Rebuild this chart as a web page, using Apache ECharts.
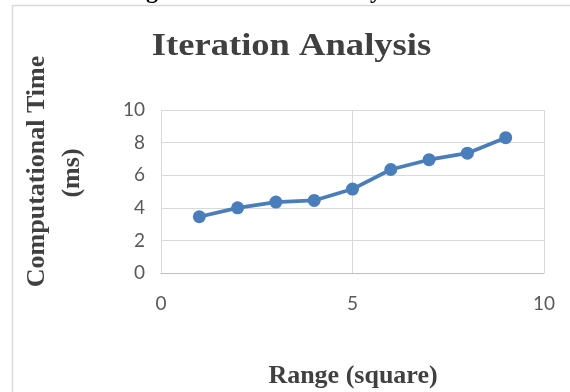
<!DOCTYPE html>
<html>
<head>
<meta charset="utf-8">
<script src="https://cdn.jsdelivr.net/npm/echarts@6/dist/echarts.min.js"></script>
<style>
  html, body { margin: 0; padding: 0; background: #ffffff; }
  #chart { width: 570px; height: 392px; }
</style>
</head>
<body>
<div id="chart"></div>
<script>
// ---- data ----
const rangeValues = [1, 2, 3, 4, 5, 6, 7, 8, 9];
const timeValues = [3.45, 4.0, 4.35, 4.45, 5.15, 6.35, 6.95, 7.35, 8.3];
const xTicks = { min: 0, max: 10, interval: 5 };
const yTicks = { min: 0, max: 10, interval: 2 };
const titleText = 'Iteration Analysis';
const captionText = 'Figure 4: Iteration Analysis';
const xName = 'Range (square)';
const yNameLine1 = 'Computational Time';
const yNameLine2 = '(ms)';

const points = rangeValues.map((x, i) => [x, timeValues[i]]);

const serifBold = 'bold {size}px "Liberation Serif", "Times New Roman", serif';
function f(size) { return serifBold.replace('{size}', size); }

const chart = echarts.init(document.getElementById('chart'));
chart.setOption({
  animation: false,
  backgroundColor: '#ffffff',
  grid: { left: 161, right: 26, top: 110, bottom: 119, containLabel: false },
  xAxis: {
    type: 'value',
    min: xTicks.min, max: xTicks.max, interval: xTicks.interval,
    axisLine: { show: true, lineStyle: { color: '#bfbfbf', width: 1 } },
    axisTick: { show: false },
    axisLabel: { color: '#595959', fontFamily: 'Lato, "Open Sans", sans-serif', fontSize: 19, margin: 21 },
    splitLine: { show: true, lineStyle: { color: '#d9d9d9', width: 1 } }
  },
  yAxis: {
    type: 'value',
    min: yTicks.min, max: yTicks.max, interval: yTicks.interval,
    axisLine: { show: false },
    axisTick: { show: false },
    axisLabel: { color: '#595959', fontFamily: 'Lato, "Open Sans", sans-serif', fontSize: 19, margin: 16 },
    splitLine: { show: true, lineStyle: { color: '#d9d9d9', width: 1 } }
  },
  series: [{
    type: 'line',
    data: points,
    symbol: 'circle',
    symbolSize: 13,
    lineStyle: { color: '#4A7EBB', width: 3.75 },
    itemStyle: { color: '#4A7EBB' }
  }],
  graphic: [
    {
      type: 'rect', silent: true, z: -1,
      shape: { x: 12.5, y: 5.5, width: 600, height: 420 },
      style: { fill: 'none', stroke: '#d9d9d9', lineWidth: 1.5 }
    },
    {
      type: 'text', x: 266, y: -8,
      style: { text: captionText, font: f(24), fill: '#000000', textAlign: 'center', textVerticalAlign: 'middle' }
    },
    {
      type: 'text', x: 291.5, y: 46.5, scaleX: 1.18, scaleY: 1,
      style: { text: titleText, font: f(31), fill: '#404040', textAlign: 'center', textVerticalAlign: 'middle' }
    },
    {
      type: 'text', x: 353, y: 376,
      style: { text: xName, font: f(26), fill: '#404040', textAlign: 'center', textVerticalAlign: 'middle' }
    },
    {
      type: 'text', x: 37, y: 171.5, rotation: Math.PI / 2,
      style: { text: yNameLine1, font: f(26), fill: '#404040', textAlign: 'center', textVerticalAlign: 'middle' }
    },
    {
      type: 'text', x: 72, y: 173, rotation: Math.PI / 2,
      style: { text: yNameLine2, font: f(26), fill: '#404040', textAlign: 'center', textVerticalAlign: 'middle' }
    }
  ]
});
</script>
</body>
</html>
